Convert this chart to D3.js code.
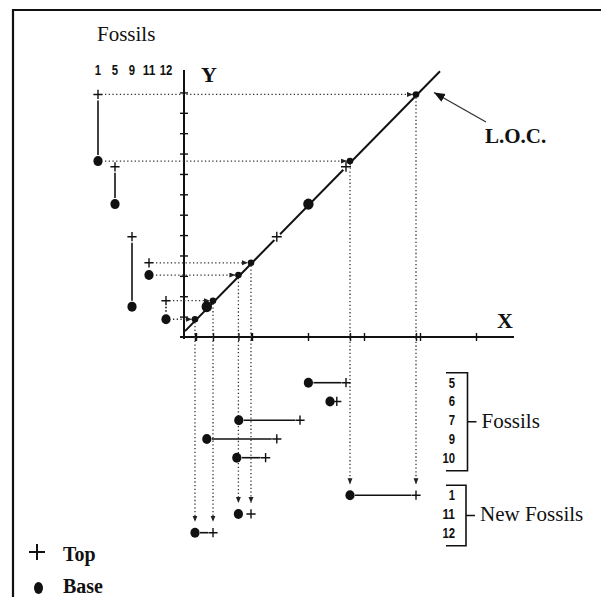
<!DOCTYPE html>
<html>
<head>
<meta charset="utf-8">
<script src="https://cdn.jsdelivr.net/npm/d3@7"></script>
<style>
  body { margin: 0; background: #fff; }
  svg { display: block; }
  .num { font-family: 'Liberation Sans', Arial, sans-serif; font-weight: bold; font-size: 14px; }
</style>
</head>
<body>
<svg id="chart" width="602" height="597"></svg>
<script>
// Section Y: fossil ranges, in units along the Y axis
const yFossils = ["1", "5", "9", "11", "12"];
const yBase = [8.63, 6.52, 1.49, 3.04, 0.87];
const yTop  = [11.9, 8.35, 4.92, 3.64, 1.78];

// Section X: fossils shared with section Y, in units along the X axis
const xFossils = ["5", "6", "7", "9", "10"];
const xBase = [31.1, 36.5, 13.7, 5.7, 13.2];
const xTop  = [40.5, 38.2, 29.0, 23.2, 20.4];

// Fossils found only in section Y, carried into section X through the L.O.C.
const newFossils = ["1", "11", "12"];
const newBase = [41.5, 13.6, 2.75];
const newTop  = [58.0, 16.75, 7.25];

// Fossils that mark points on the line of correlation
const locFossils = ["5", "9"];

// Line of correlation end points
const locX = [0.25, 64.0];
const locY = [0.29, 13.04];

// Regular axis ticks
const xTicks = [3, 17, 31, 45, 59, 73];
const yTicks = [1, 2, 3, 4, 5, 6, 7, 8, 9, 10, 11, 12];

const svg = d3.select("#chart");
const serif = "'Liberation Serif', 'Times New Roman', serif";
const ink = "#111";

const x = d3.scaleLinear().domain([0, 82.5]).range([184, 514]);
const y = d3.scaleLinear().domain([0, 13.1]).range([337, 70]);
const col = d3.scalePoint().domain(yFossils).range([98, 166]);
const row = d3.scaleLinear().domain([0, 8]).range([382.7, 532.7]);

// Narrow numerals for fossil numbers
function numLabel(g, tx, ty, s, anchor) {
  return g.append("text").attr("class", "num").attr("x", tx).attr("y", ty)
    .attr("text-anchor", anchor).attr("textLength", 6.3 * s.length)
    .attr("lengthAdjust", "spacingAndGlyphs").attr("fill", ink).text(s);
}

// Arrow heads
const defs = svg.append("defs");
defs.append("marker")
  .attr("id", "arrowSmall").attr("markerUnits", "userSpaceOnUse")
  .attr("markerWidth", 7).attr("markerHeight", 6)
  .attr("refX", 6).attr("refY", 2.5).attr("orient", "auto")
  .append("path").attr("d", "M0,0L6,2.5L0,5Z").attr("fill", "#222");
defs.append("marker")
  .attr("id", "arrowBig").attr("markerUnits", "userSpaceOnUse")
  .attr("markerWidth", 12).attr("markerHeight", 10)
  .attr("refX", 11).attr("refY", 4.5).attr("orient", "auto")
  .append("path").attr("d", "M0,0L11,4.5L0,9Z").attr("fill", ink);

// Frame
svg.append("line").attr("x1", 12).attr("x2", 601).attr("y1", 10).attr("y2", 10)
  .attr("stroke", ink).attr("stroke-width", 2.2);
svg.append("line").attr("x1", 13).attr("x2", 13).attr("y1", 9).attr("y2", 597)
  .attr("stroke", ink).attr("stroke-width", 2.2);

// Axes
const xAxis = svg.append("g").attr("transform", `translate(0,${y(0)})`)
  .call(d3.axisBottom(x).tickValues(xTicks.concat(newBase, newTop))
    .tickSize(4).tickSizeOuter(0).tickFormat(""));
xAxis.select(".domain").remove();
xAxis.selectAll(".tick line").attr("y1", -4).attr("y2", 4)
  .attr("stroke", ink).attr("stroke-width", 1.4);
svg.append("line").attr("x1", x(-1)).attr("x2", x(82.5))
  .attr("y1", y(0)).attr("y2", y(0)).attr("stroke", ink).attr("stroke-width", 2);

const yAxis = svg.append("g").attr("transform", `translate(${x(0)},0)`)
  .call(d3.axisLeft(y).tickValues(yTicks).tickSize(4).tickSizeOuter(0).tickFormat(""));
yAxis.select(".domain").remove();
yAxis.selectAll(".tick line").attr("x1", -4).attr("x2", 4)
  .attr("stroke", ink).attr("stroke-width", 1.4);
svg.append("line").attr("x1", x(0)).attr("x2", x(0))
  .attr("y1", y(13.1)).attr("y2", y(-0.1)).attr("stroke", ink).attr("stroke-width", 2);

svg.append("text").attr("x", 201).attr("y", 81.5).text("Y")
  .attr("font-family", serif).attr("font-weight", "bold").attr("font-size", 22).attr("fill", ink);
svg.append("text").attr("x", 497).attr("y", 328).text("X")
  .attr("font-family", serif).attr("font-weight", "bold").attr("font-size", 22).attr("fill", ink);

// Marker helpers
function cross(g, cx, cy, s = 4.6, w = 1.4) {
  g.append("path").attr("d", `M${cx - s},${cy}H${cx + s}M${cx},${cy - s}V${cy + s}`)
    .attr("stroke", ink).attr("stroke-width", w).attr("fill", "none");
}
function dot(g, cx, cy, rx = 4.6, ry = 5) {
  g.append("ellipse").attr("cx", cx).attr("cy", cy).attr("rx", rx).attr("ry", ry).attr("fill", ink);
}
function dottedLine(g, x1, y1, x2, y2) {
  g.append("line").attr("x1", x1).attr("y1", y1).attr("x2", x2).attr("y2", y2)
    .attr("stroke", "#333").attr("stroke-width", 1.3).attr("stroke-dasharray", "1.3,2.4")
    .attr("marker-end", "url(#arrowSmall)");
}

// Projections of the new fossils: across to the L.O.C., then down into section X
const proj = svg.append("g");
newFossils.forEach((f, i) => {
  const j = yFossils.indexOf(f);
  const r = row(xFossils.length + 1 + i);
  [[newBase[i], yBase[j]], [newTop[i], yTop[j]]].forEach(([vx, vy]) => {
    dottedLine(proj, col(f) + 7, y(vy), x(vx) - 3, y(vy));
    dottedLine(proj, x(vx), y(vy) + 3, x(vx), r - 11);
  });
});

// Line of correlation
const loc = svg.append("g");
loc.append("line")
  .attr("x1", x(locX[0])).attr("y1", y(locY[0]))
  .attr("x2", x(locX[1])).attr("y2", y(locY[1]))
  .attr("stroke", ink).attr("stroke-width", 2);
locFossils.forEach(f => {
  const i = xFossils.indexOf(f), j = yFossils.indexOf(f);
  dot(loc, x(xBase[i]), y(yBase[j]), 5.2, 5.6);
  loc.append("circle").attr("cx", x(xTop[i])).attr("cy", y(yTop[j])).attr("r", 4)
    .attr("fill", "#fff");
  cross(loc, x(xTop[i]), y(yTop[j]), 5, 1.4);
});
newFossils.forEach((f, i) => {
  const j = yFossils.indexOf(f);
  dot(loc, x(newBase[i]), y(yBase[j]), 3.3, 3.3);
  dot(loc, x(newTop[i]), y(yTop[j]), 3.3, 3.3);
});

// L.O.C. label and pointer
svg.append("line").attr("x1", 486).attr("y1", 122).attr("x2", 434).attr("y2", 92.5)
  .attr("stroke", "#333").attr("stroke-width", 1.3).attr("marker-end", "url(#arrowBig)");
svg.append("text").attr("x", 485).attr("y", 143).text("L.O.C.")
  .attr("font-family", serif).attr("font-weight", "bold").attr("font-size", 21).attr("fill", ink);

// Section Y ranges
const secY = svg.append("g");
svg.append("text").attr("x", 97).attr("y", 41).text("Fossils")
  .attr("font-family", serif).attr("font-size", 21).attr("fill", ink);
yFossils.forEach((f, j) => {
  const cx = col(f);
  numLabel(secY, cx, 75, f, "middle");
  const top = y(yTop[j]), base = y(yBase[j]);
  if (base - top > 14) {
    secY.append("line").attr("x1", cx).attr("x2", cx).attr("y1", top + 6).attr("y2", base - 6)
      .attr("stroke", ink).attr("stroke-width", 1.6)
      .attr("stroke-dasharray", base - top < 25 ? "1.5,2" : null);
  }
  cross(secY, cx, top);
  dot(secY, cx, base);
});

// Section X ranges, shared fossils then new fossils
const secX = svg.append("g");
function rangeRow(b, t, r, label) {
  const xb = x(b), xt = x(t);
  if (xt - xb > 14) {
    secX.append("line").attr("x1", xb + 5).attr("x2", xt - 5).attr("y1", r).attr("y2", r)
      .attr("stroke", ink).attr("stroke-width", 1.6);
  }
  cross(secX, xt, r);
  dot(secX, xb, r);
  numLabel(secX, 455, r + 5, label, "end");
}
xFossils.forEach((f, i) => rangeRow(xBase[i], xTop[i], row(i), f));
newFossils.forEach((f, i) => rangeRow(newBase[i], newTop[i], row(xFossils.length + 1 + i), f));

// Brackets grouping the section X labels
function bracket(first, last, label, bx) {
  const t = row(first) - 10, b = row(last) + 13, m = (t + b) / 2;
  secX.append("path")
    .attr("d", `M446,${t}H${bx}V${b}H446M${bx},${m}H${bx + 9}`)
    .attr("stroke", ink).attr("stroke-width", 1.6).attr("fill", "none");
  secX.append("text").attr("x", bx + 14).attr("y", m + 6).text(label)
    .attr("font-family", serif).attr("font-size", 21).attr("fill", ink);
}
bracket(0, xFossils.length - 1, "Fossils", 467.5);
bracket(xFossils.length + 1, xFossils.length + newFossils.length, "New Fossils", 466);

// Legend
const leg = svg.append("g");
cross(leg, 37, 552, 8, 2);
leg.append("text").attr("x", 63).attr("y", 561).text("Top")
  .attr("font-family", serif).attr("font-weight", "bold").attr("font-size", 20).attr("fill", ink);
dot(leg, 38.5, 588, 4.5, 6);
leg.append("text").attr("x", 63).attr("y", 593).text("Base")
  .attr("font-family", serif).attr("font-weight", "bold").attr("font-size", 20).attr("fill", ink);
</script>
</body>
</html>
